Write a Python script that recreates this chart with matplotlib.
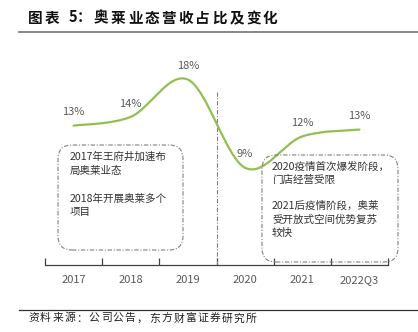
import matplotlib
matplotlib.use("Agg")
import matplotlib.pyplot as plt
from matplotlib.path import Path
from matplotlib.patches import PathPatch, FancyBboxPatch
from matplotlib.transforms import IdentityTransform
from matplotlib.lines import Line2D

plt.rcParams['font.family'] = ['Noto Sans CJK SC', 'DejaVu Sans']

# Data
categories = ["2017", "2018", "2019", "2020", "2021", "2022Q3"]
share_pct = [13.3, 14.2, 18.0, 9.0, 12.2, 12.9]

title = "图表 5：奥莱业态营收占比及变化"
source = "资料来源：公司公告，东方财富证券研究所"
note_left = "2017年王府井加速布\n局奥莱业态\n\n2018年开展奥莱多个\n项目"
note_right = "2020疫情首次爆发阶段，\n门店经营受限\n\n2021后疫情阶段，奥莱\n受开放式空间优势复苏\n较快"

W, H, DPI = 418, 332, 100
fig = plt.figure(figsize=(W / DPI, H / DPI), dpi=DPI)
fig.patch.set_facecolor("white")

def fx(px):
    return px / W

def fy(py):
    return 1 - py / H

ax = fig.add_axes([fx(45), fy(265), fx(388) - fx(45), fy(60) - fy(265)])
ax.set_xlim(-0.5, len(categories) - 0.5)
ax.set_ylim(-0.92, 20.0)
for s in ["top", "right", "left"]:
    ax.spines[s].set_visible(False)
ax.spines["bottom"].set_color("#404040")
ax.spines["bottom"].set_linewidth(0.9)
ax.set_yticks([])
ax.set_xticks([i - 0.5 for i in range(len(categories) + 1)])
ax.set_xticklabels([])
ax.set_xticks(range(len(categories)), minor=True)
ax.set_xticklabels(categories, minor=True)
ax.tick_params(axis="x", which="major", direction="in", length=5, width=0.9, color="#404040")
ax.tick_params(axis="x", which="minor", length=0, pad=7, labelsize=8, labelcolor="#595959")

# Smoothed line (Catmull-Rom segments as cubic Bezier curves)
xs = list(range(len(share_pct)))
pts = list(zip(xs, share_pct))
verts = [pts[0]]
codes = [Path.MOVETO]
n = len(pts)
for i in range(n - 1):
    p0 = pts[i - 1] if i > 0 else pts[i]
    p1 = pts[i]
    p2 = pts[i + 1]
    p3 = pts[i + 2] if i + 2 < n else pts[i + 1]
    c1 = (p1[0] + (p2[0] - p0[0]) / 6, p1[1] + (p2[1] - p0[1]) / 6)
    c2 = (p2[0] - (p3[0] - p1[0]) / 6, p2[1] - (p3[1] - p1[1]) / 6)
    verts += [c1, c2, p2]
    codes += [Path.CURVE4] * 3
ax.add_patch(PathPatch(Path(verts, codes), facecolor="none", edgecolor="#92C050",
                       lw=1.6, capstyle="round", zorder=3))

for x, v in zip(xs, share_pct):
    ax.annotate(f"{v:.0f}%", (x, v), xytext=(0, 6), textcoords="offset points",
                ha="center", va="bottom", fontsize=8, color="#595959")

# Divider between pre- and post-2020 periods
ax.vlines(2.5, ax.get_ylim()[0], 16.7, colors="#808080", linestyles=(0, (4, 1.5, 1, 1.5)), lw=0.8)

# Annotation boxes (display pixel coordinates, origin at bottom-left)
def note_box(x0, y0, x1, y1):
    box = FancyBboxPatch((x0, H - y1), x1 - x0, y1 - y0,
                         boxstyle="round,pad=0,rounding_size=14",
                         transform=IdentityTransform(), facecolor="none",
                         edgecolor="#808080", lw=0.8,
                         linestyle=(0, (4, 1.5, 1, 1.5)))
    fig.patches.append(box)

note_box(58, 145, 183, 250)
note_box(262, 155, 398, 262)

fig.text(fx(70), fy(152), note_left, fontsize=7.6, color="#333333",
         va="top", ha="left", linespacing=1.45)
fig.text(fx(272), fy(161), note_right, fontsize=7.6, color="#333333",
         va="top", ha="left", linespacing=1.38)

# Letter-spaced text: each character placed at its own advance (pixels),
# all sharing one baseline
def spaced_text(x, y, s, pitch, narrow, **kw):
    for ch in s:
        fig.text(fx(x), fy(y), ch, va="baseline", ha="left", **kw)
        if ch == " ":
            x += narrow * 0.8
        elif ch.isascii():
            x += narrow
        else:
            x += pitch

# Title, rules and source
spaced_text(28, 22.5, title, 16.9, 8.5, fontsize=10.5, fontweight="bold", color="#111111")
fig.add_artist(Line2D([fx(19), 1.0], [fy(31.5), fy(31.5)], color="#7f7f7f", lw=1.3,
                      transform=fig.transFigure))
fig.add_artist(Line2D([fx(19), 1.0], [fy(310), fy(310)], color="#333333", lw=0.9,
                      transform=fig.transFigure))
spaced_text(28, 321.5, source, 12.1, 7, fontsize=7.8, color="#222222")

fig.savefig("out.png", dpi=DPI)
